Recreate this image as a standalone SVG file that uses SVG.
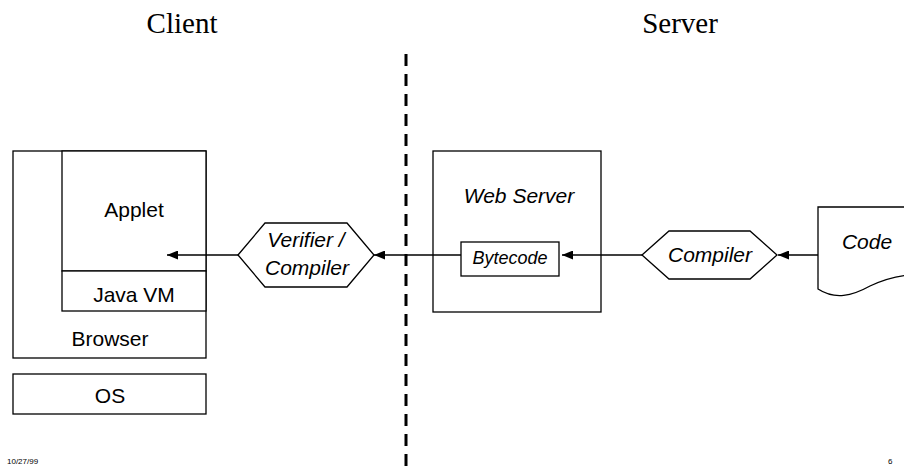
<svg xmlns="http://www.w3.org/2000/svg" width="904" height="466" viewBox="0 0 904 466">
<style>
.box{fill:#fff;stroke:#000;stroke-width:1.3}
.ln{fill:none;stroke:#000;stroke-width:1.3}
.t{font-family:"Liberation Sans",Arial,sans-serif;font-size:21px;fill:#000;text-anchor:middle}
.i{font-style:italic}
.title{font-family:"Liberation Serif","Times New Roman",serif;font-size:29px;fill:#000;text-anchor:middle}
.small{font-family:"Liberation Sans",Arial,sans-serif;font-size:8px;fill:#000}
</style>
<defs>
<marker id="ah" viewBox="0 0 11 9" refX="11" refY="4.5" markerWidth="11" markerHeight="9" markerUnits="userSpaceOnUse" orient="auto">
<path d="M0,0 L11,4.5 L0,9 z" fill="#000"/>
</marker>
</defs>
<rect width="904" height="466" fill="#fff"/>
<text class="title" x="182" y="33">Client</text>
<text class="title" x="680" y="33">Server</text>
<line x1="406" y1="54" x2="406" y2="466" stroke="#000" stroke-width="3" stroke-dasharray="12 8"/>
<g id="browser">
<rect class="box" x="13" y="151" width="193" height="207"/>
<text class="t" x="110" y="346">Browser</text>
</g>
<g id="applet">
<rect class="box" x="62" y="151" width="144" height="120"/>
<text class="t" x="134" y="217">Applet</text>
</g>
<g id="javavm">
<rect class="box" x="62" y="271" width="144" height="40"/>
<text class="t" x="134" y="302">Java VM</text>
</g>
<g id="os">
<rect class="box" x="13" y="374" width="193" height="40"/>
<text class="t" x="110" y="403">OS</text>
</g>
<g id="verifier">
<polygon class="box" points="238,255 265,223 347,223 374,255 347,287 265,287"/>
<text class="t i" x="306" y="247">Verifier /</text>
<text class="t i" x="307" y="275">Compiler</text>
</g>
<g id="webserver">
<rect class="box" x="433" y="151" width="168" height="161"/>
<text class="t i" x="519" y="203">Web Server</text>
</g>
<g id="bytecode">
<rect class="box" x="461" y="242" width="98" height="34"/>
<text class="t i" x="510" y="264" style="font-size:18px">Bytecode</text>
</g>
<g id="compiler">
<polygon class="box" points="642,255 669,231 750,231 777,255 750,279 669,279"/>
<text class="t i" x="710" y="262">Compiler</text>
</g>
<g id="code">
<path class="box" d="M910,207 L818,207 L818,289 C835,300 852,296 870,286 C885,279 896,276 910,275"/>
<text class="t i" x="867" y="249">Code</text>
</g>
<g id="connectors">
<line class="ln" x1="238" y1="255" x2="167" y2="255" marker-end="url(#ah)"/>
<line class="ln" x1="461" y1="255" x2="374" y2="255" marker-end="url(#ah)"/>
<line class="ln" x1="642" y1="255" x2="562" y2="255" marker-end="url(#ah)"/>
<line class="ln" x1="818" y1="255" x2="778" y2="255" marker-end="url(#ah)"/>
</g>
<text class="small" x="7" y="464">10/27/99</text>
<text class="small" x="888" y="464">6</text>
</svg>
